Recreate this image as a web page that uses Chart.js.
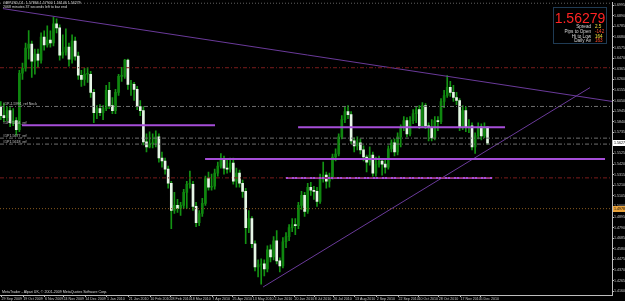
<!DOCTYPE html>
<html>
<head>
<meta charset="utf-8">
<script src="https://cdn.jsdelivr.net/npm/chart.js@4.4.1/dist/chart.umd.min.js"></script>
<style>
  html, body { margin: 0; padding: 0; background: #000; }
  #wrap { width: 625px; height: 301px; background: #000; }
</style>
</head>
<body>
<div id="wrap"><canvas id="gbpusd" width="625" height="301"></canvas></div>
<script>
// GBPUSD daily, two trading days per candle: [open, high, low, close]
const candles = [
  [1.5990,1.6040,1.5860,1.5900],[1.5900,1.6020,1.5840,1.5880],[1.5880,1.5990,1.5850,1.5950],[1.5950,1.5980,1.5790,1.5830],
  [1.5830,1.5970,1.5800,1.5850],[1.5850,1.5880,1.5707,1.5760],[1.5760,1.6350,1.5740,1.6320],[1.6320,1.6420,1.6260,1.6370],
  [1.6370,1.6620,1.6340,1.6570],[1.6570,1.6743,1.6460,1.6610],[1.6610,1.6640,1.6280,1.6440],[1.6440,1.6560,1.6310,1.6510],
  [1.6510,1.6560,1.6380,1.6450],[1.6450,1.6720,1.6420,1.6680],[1.6680,1.6740,1.6550,1.6600],[1.6600,1.6790,1.6580,1.6650],
  [1.6650,1.6740,1.6580,1.6620],[1.6620,1.6877,1.6590,1.6810],[1.6810,1.6860,1.6720,1.6770],[1.6770,1.6800,1.6450,1.6500],
  [1.6500,1.6700,1.6470,1.6530],[1.6530,1.6760,1.6500,1.6580],[1.6580,1.6620,1.6390,1.6460],[1.6460,1.6700,1.6420,1.6640],
  [1.6640,1.6680,1.6450,1.6490],[1.6490,1.6530,1.6260,1.6300],[1.6300,1.6350,1.6190,1.6260],[1.6260,1.6370,1.6200,1.6310],
  [1.6310,1.6380,1.6230,1.6310],[1.6310,1.6340,1.6080,1.6130],[1.6130,1.6160,1.5830,1.5930],[1.5930,1.6000,1.5870,1.5970],
  [1.5970,1.6010,1.5900,1.5930],[1.5930,1.6000,1.5860,1.5970],[1.5970,1.6200,1.5950,1.6150],[1.6150,1.6230,1.5970,1.6000],
  [1.6000,1.6080,1.5920,1.5950],[1.5950,1.6160,1.5920,1.6130],[1.6130,1.6310,1.6100,1.6290],[1.6290,1.6380,1.6240,1.6290],
  [1.6290,1.6458,1.6270,1.6450],[1.6450,1.6460,1.6160,1.6210],[1.6210,1.6250,1.6100,1.6210],[1.6210,1.6230,1.6050,1.6160],
  [1.6160,1.6190,1.5960,1.5990],[1.5990,1.6050,1.5900,1.5950],[1.5950,1.5990,1.5610,1.5640],[1.5640,1.5720,1.5540,1.5590],
  [1.5590,1.5740,1.5580,1.5620],[1.5620,1.5720,1.5580,1.5630],[1.5630,1.5750,1.5590,1.5690],[1.5690,1.5720,1.5440,1.5480],
  [1.5480,1.5540,1.5390,1.5450],[1.5450,1.5480,1.5320,1.5370],[1.5370,1.5400,1.5180,1.5230],[1.5230,1.5250,1.4780,1.4960],
  [1.4960,1.5140,1.4930,1.5010],[1.5010,1.5070,1.4940,1.4980],[1.4980,1.5040,1.4910,1.5010],[1.5010,1.5170,1.4980,1.5140],
  [1.5140,1.5250,1.4980,1.5220],[1.5220,1.5350,1.5180,1.5220],[1.5220,1.5250,1.4960,1.5000],[1.5000,1.5040,1.4800,1.4840],
  [1.4840,1.4960,1.4810,1.4930],[1.4930,1.5080,1.4900,1.5030],[1.5030,1.5300,1.5010,1.5280],[1.5280,1.5340,1.5160,1.5190],
  [1.5190,1.5320,1.5160,1.5200],[1.5200,1.5370,1.5170,1.5330],[1.5330,1.5440,1.5300,1.5400],[1.5400,1.5523,1.5380,1.5470],
  [1.5470,1.5500,1.5320,1.5380],[1.5380,1.5470,1.5330,1.5370],[1.5370,1.5480,1.5340,1.5430],[1.5430,1.5480,1.5220,1.5250],
  [1.5250,1.5380,1.5190,1.5330],[1.5330,1.5360,1.5190,1.5230],[1.5230,1.5260,1.5090,1.5150],[1.5150,1.5180,1.4630,1.4790],
  [1.4790,1.4960,1.4740,1.4880],[1.4880,1.4900,1.4590,1.4630],[1.4630,1.4660,1.4360,1.4400],[1.4400,1.4470,1.4300,1.4420],
  [1.4420,1.4480,1.4230,1.4430],[1.4430,1.4470,1.4310,1.4380],[1.4380,1.4610,1.4350,1.4570],[1.4570,1.4620,1.4450,1.4500],
  [1.4500,1.4700,1.4470,1.4660],[1.4660,1.4760,1.4430,1.4460],[1.4460,1.4490,1.4350,1.4410],[1.4410,1.4690,1.4390,1.4650],
  [1.4650,1.4740,1.4590,1.4700],[1.4700,1.4820,1.4660,1.4790],[1.4790,1.4880,1.4750,1.4820],[1.4820,1.4880,1.4720,1.4810],
  [1.4810,1.5040,1.4780,1.5010],[1.5010,1.5150,1.4970,1.5110],[1.5110,1.5140,1.4900,1.4950],[1.4950,1.5230,1.4930,1.5190],
  [1.5190,1.5240,1.5110,1.5160],[1.5160,1.5200,1.5070,1.5150],[1.5150,1.5190,1.5000,1.5050],[1.5050,1.5320,1.5030,1.5270],
  [1.5270,1.5440,1.5240,1.5310],[1.5310,1.5340,1.5180,1.5250],[1.5250,1.5330,1.5190,1.5290],[1.5290,1.5520,1.5270,1.5490],
  [1.5490,1.5570,1.5450,1.5520],[1.5520,1.5720,1.5500,1.5690],[1.5690,1.5900,1.5670,1.5860],[1.5860,1.5990,1.5830,1.5940],
  [1.5940,1.6000,1.5870,1.5910],[1.5910,1.5940,1.5620,1.5650],[1.5650,1.5680,1.5540,1.5600],[1.5600,1.5690,1.5560,1.5630],
  [1.5630,1.5670,1.5520,1.5560],[1.5560,1.5600,1.5450,1.5490],[1.5490,1.5510,1.5343,1.5440],[1.5440,1.5590,1.5410,1.5510],
  [1.5510,1.5540,1.5300,1.5330],[1.5330,1.5490,1.5300,1.5420],[1.5420,1.5500,1.5390,1.5450],[1.5450,1.5470,1.5310,1.5420],
  [1.5420,1.5460,1.5330,1.5390],[1.5390,1.5600,1.5370,1.5570],[1.5570,1.5660,1.5540,1.5630],[1.5630,1.5670,1.5500,1.5540],
  [1.5540,1.5730,1.5510,1.5690],[1.5690,1.5810,1.5590,1.5780],[1.5780,1.5890,1.5750,1.5850],[1.5850,1.5880,1.5690,1.5720],
  [1.5720,1.5890,1.5700,1.5850],[1.5850,1.5960,1.5820,1.5920],[1.5920,1.5990,1.5830,1.5960],[1.5960,1.6000,1.5770,1.5800],
  [1.5800,1.6030,1.5780,1.6000],[1.6000,1.6020,1.5770,1.5800],[1.5800,1.5830,1.5650,1.5780],[1.5780,1.5860,1.5650,1.5680],
  [1.5680,1.5890,1.5660,1.5850],[1.5850,1.5890,1.5750,1.5840],[1.5840,1.6070,1.5820,1.6040],[1.6040,1.6150,1.5980,1.6100],
  [1.6100,1.6298,1.6080,1.6180],[1.6180,1.6240,1.6090,1.6130],[1.6130,1.6200,1.6040,1.6080],[1.6080,1.6130,1.6010,1.6050],
  [1.6050,1.6070,1.5750,1.5790],[1.5790,1.6000,1.5760,1.5950],[1.5950,1.5990,1.5740,1.5780],[1.5780,1.5860,1.5730,1.5800],
  [1.5800,1.5830,1.5560,1.5590],[1.5590,1.5730,1.5525,1.5700],[1.5700,1.5830,1.5670,1.5790],[1.5790,1.5820,1.5660,1.5700],
  [1.5700,1.5830,1.5680,1.5787],[1.57866,1.57900,1.56146,1.56279]
];

// x axis: trading-day index of each date label
const xTickDays = [1, 15, 29, 41, 55, 69, 83, 97, 110, 123, 137, 150, 163, 177, 190, 203, 215, 229, 243, 257, 270, 283, 297, 310];
const xTickLabels = ['29 Sep 2009', '19 Oct 2009', '6 Nov 2009', '24 Nov 2009', '14 Dec 2009', '1 Jan 2010', '21 Jan 2010',
  '10 Feb 2010', '28 Feb 2010', '18 Mar 2010', '7 Apr 2010', '25 Apr 2010', '13 May 2010', '2 Jun 2010', '20 Jun 2010',
  '8 Jul 2010', '26 Jul 2010', '13 Aug 2010', '2 Sep 2010', '22 Sep 2010', '10 Oct 2010', '28 Oct 2010', '17 Nov 2010', '5 Dec 2010'];

// price axis labels
const yTicks = [1.6995, 1.6890, 1.6785, 1.6680, 1.6575, 1.6470, 1.6365, 1.6260, 1.6155, 1.6050, 1.5945, 1.5840, 1.5735, 1.5630,
  1.5525, 1.5420, 1.5315, 1.5210, 1.5105, 1.5000, 1.4895, 1.4790, 1.4685, 1.4580, 1.4475, 1.4370, 1.4265, 1.4160];

// drawn objects
const redLevels = [1.6375, 1.5283];
const greyLevels = [1.5991, 1.5677, 1.5618];
const orangeLevels = [1.4978];
const topLevels = [1.7015];
const purpleSegments = [[14.2, 138.7, 1.5804], [192.3, 325.8, 1.5785], [132.3, 390.3, 1.5470], [184.5, 317.4, 1.5283]];
const trendDown = [[1.9, 1.6961], [394.8, 1.6041]];
const trendUp = [[169.7, 1.4201], [380.6, 1.6178]];
const levelNotes = [['#1P-1.5991_ref Neck', 1.5991], ['#1P1.5804_ref', 1.5804], ['#1P1.5677_ref', 1.5677], ['#1P1.5618_ref', 1.5618]];

const headerText = 'GBPUSD,D1  1.57866 1.57900 1.56146 1.56279';
const timerText = '2068 minutes 37 seconds left to bar end';
const footerText = 'MetaTrader - Alpari UK, \u00A9 2001-2009 MetaQuotes Software Corp.';
const lastPrice = 1.56279;
const infoLabels = ['Spread', 'Pips to Open', 'Hi to Low', 'Daily Av'];
const infoValues = ['2.5', '-142', '164', '163'];

const X_MAX = 394.8;
const Y_MIN = 1.4122, Y_MAX = 1.7025;
const GREEN = '#139313';
const FONT = '"Liberation Sans", Arial, sans-serif';

const wicks = candles.map((c, i) => ({ x: 2 * i + 0.5, y: [c[2], c[1]] }));
const bodies = candles.map((c, i) => ({ x: 2 * i + 0.5, y: [c[0], c[3]] }));
const bodyColors = candles.map(c => c[3] >= c[0] ? '#0f870f' : '#e6f6e6');

function seg(x1, x2, p1, p2) { return [{ x: x1, y: p1 }, { x: x2, y: p2 }]; }
function lineDs(data, color, width, dash) {
  return { type: 'line', data, borderColor: color, borderWidth: width, borderDash: dash || [], pointRadius: 0, order: 0, fill: false, tension: 0 };
}

const lineSets = [];
topLevels.forEach(p => lineSets.push(lineDs(seg(0, X_MAX, p, p), '#6a6a6a', 1, [1, 2])));
redLevels.forEach(p => lineSets.push(lineDs(seg(0, X_MAX, p, p), '#7a1c1c', 1, [4, 2, 1, 2])));
greyLevels.forEach(p => lineSets.push(lineDs(seg(0, X_MAX, p, p), '#6e6e6e', 1, [4, 2, 1, 2])));
orangeLevels.forEach(p => lineSets.push(lineDs(seg(0, X_MAX, p, p), '#8a5a20', 1, [1, 2])));
purpleSegments.forEach(s => lineSets.push(lineDs(seg(s[0], s[1], s[2], s[2]), '#a64ed8', 2)));
lineSets.push(lineDs(seg(trendDown[0][0], trendDown[1][0], trendDown[0][1], trendDown[1][1]), '#6a3a9a', 1));
lineSets.push(lineDs(seg(trendUp[0][0], trendUp[1][0], trendUp[0][1], trendUp[1][1]), '#6a3a9a', 1));

const overlay = {
  id: 'overlay',
  afterDraw(chart) {
    const { ctx, scales: { y } } = chart;
    ctx.save();
    // object descriptions
    ctx.font = '3.6px ' + FONT;
    ctx.fillStyle = '#c8c8c8';
    ctx.textAlign = 'left';
    ctx.textBaseline = 'bottom';
    levelNotes.forEach(n => ctx.fillText(n[0], 3, y.getPixelForValue(n[1]) - 0.5));
    // header and footer
    ctx.textBaseline = 'top';
    ctx.fillStyle = '#dcdcdc';
    ctx.fillText(headerText, 3, 1);
    ctx.fillText(timerText, 3, 5);
    ctx.fillText(footerText, 2, 290.5);
    // price boxes on the axis
    const boxes = [[lastPrice, '#ffffff']].concat(orangeLevels.map(p => [p, '#e9a23b']));
    boxes.forEach(b => {
      const py = y.getPixelForValue(b[0]);
      ctx.fillStyle = b[1];
      ctx.fillRect(613, Math.round(py) - 3, 12, 6);
      ctx.fillStyle = '#000';
      ctx.textBaseline = 'middle';
      ctx.fillText(b[0].toFixed(5), 614, py);
    });
    // info box
    ctx.setLineDash([1, 1]);
    ctx.strokeStyle = '#3f77a8';
    ctx.lineWidth = 1;
    ctx.strokeRect(553.5, 7.5, 53, 36);
    ctx.setLineDash([]);
    ctx.fillStyle = '#ff2323';
    ctx.font = '14px ' + FONT;
    ctx.textAlign = 'center';
    ctx.textBaseline = 'alphabetic';
    ctx.fillText(lastPrice.toFixed(5), 580, 23);
    ctx.font = '4.6px ' + FONT;
    const valueColors = ['#f2e33a', '#ff4b2b', '#f2e33a', '#ff4b2b'];
    infoLabels.forEach((t, i) => {
      const by = 28 + i * 4.8;
      ctx.textAlign = 'right';
      ctx.fillStyle = '#d8d8d8';
      ctx.fillText(t, 591, by);
      ctx.textAlign = 'left';
      ctx.fillStyle = valueColors[i];
      ctx.fillText(infoValues[i], 595, by);
    });
    ctx.restore();
  }
};

new Chart(document.getElementById('gbpusd'), {
  type: 'bar',
  data: {
    datasets: [
      { data: bodies, backgroundColor: bodyColors, barThickness: 2, minBarLength: 1, grouped: false, order: 1 },
      { data: wicks, backgroundColor: GREEN, barThickness: 1, grouped: false, order: 2 }
    ].concat(lineSets)
  },
  options: {
    responsive: false,
    animation: false,
    events: [],
    layout: { padding: 0 },
    plugins: { legend: { display: false }, tooltip: { enabled: false } },
    scales: {
      x: {
        type: 'linear', min: 0, max: X_MAX, offset: false,
        afterBuildTicks: s => { s.ticks = xTickDays.map(v => ({ value: v })); },
        afterFit: s => { s.height = 6; },
        ticks: { autoSkip: false, maxRotation: 0, align: 'start', padding: 0, color: '#c8c8c8',
          font: { size: 3.6, family: FONT }, callback: (v, i) => xTickLabels[i] },
        grid: { drawOnChartArea: false, offset: false, tickLength: 2, color: '#bdbdbd' },
        border: { color: '#bdbdbd' }
      },
      y: {
        position: 'right', min: Y_MIN, max: Y_MAX,
        afterBuildTicks: s => { s.ticks = yTicks.map(v => ({ value: v })); },
        afterFit: s => { s.width = 13; },
        ticks: { padding: 0, color: '#c8c8c8', font: { size: 3.6, family: FONT }, callback: v => v.toFixed(5) },
        grid: { drawOnChartArea: false, tickLength: 2, color: '#bdbdbd' },
        border: { color: '#bdbdbd' }
      }
    }
  },
  plugins: [overlay]
});
</script>
</body>
</html>
